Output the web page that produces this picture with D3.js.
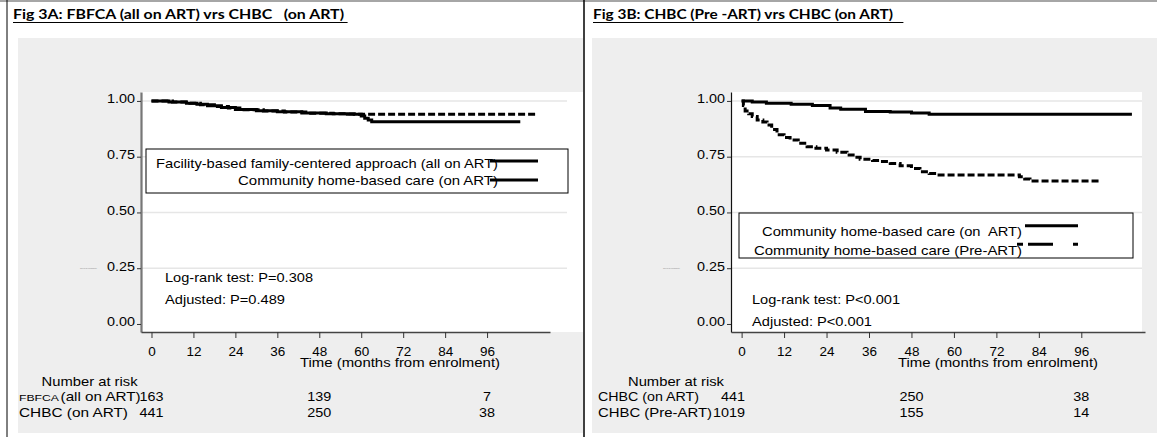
<!DOCTYPE html>
<html>
<head>
<meta charset="utf-8">
<script src="https://cdn.jsdelivr.net/npm/d3@7"></script>
<style>
  body { margin: 0; background: #fff; }
  svg { display: block; }
  text { font-family: "Liberation Sans", Arial, sans-serif; fill: #000; }
</style>
</head>
<body>
<div id="chart"></div>
<script>
//////////////////////
// data from figure //
//////////////////////

const monthTicks = [0, 12, 24, 36, 48, 60, 72, 84, 96]
const survTicks = [0, 0.25, 0.5, 0.75, 1]
const gridTicks = [0.25, 0.5, 0.75, 1]
const riskMonths = [0, 48, 96]

// Fig 3A  [month, survival]
const fbfcaOnArt = [[0, 1], [5, 0.995], [10, 0.99], [13, 0.985], [16, 0.978], [20, 0.97], [24, 0.962],
    [30, 0.956], [36, 0.951], [43, 0.946], [50, 0.943], [56, 0.94], [60, 0.932], [61, 0.922],
    [62, 0.914], [63, 0.907], [105.5, 0.907]]
const chbcOnArtA = [[0, 1], [6, 0.995], [11, 0.99], [14, 0.983], [18, 0.975], [22, 0.968], [26, 0.96],
    [32, 0.955], [38, 0.95], [45, 0.945], [52, 0.942], [58, 0.94], [110, 0.94]]
const riskFbfca = [163, 139, 7]
const riskChbcA = [441, 250, 38]

// Fig 3B
const chbcOnArtB = [[0, 1], [3, 0.995], [7, 0.99], [14, 0.985], [20, 0.979], [25, 0.968], [28, 0.963],
    [35, 0.953], [42, 0.95], [48, 0.946], [53, 0.94], [110.3, 0.94]]
const chbcPreArt = [[0, 1], [0.5, 0.98], [1, 0.955], [2, 0.942], [3, 0.93], [4.4, 0.915], [6, 0.905],
    [7.2, 0.892], [8.5, 0.872], [10, 0.848], [12, 0.836], [13.7, 0.825], [16, 0.81], [18.5, 0.795],
    [21, 0.788], [24, 0.78], [27, 0.77], [29.8, 0.758], [32, 0.748], [33.5, 0.739], [37, 0.733],
    [39.2, 0.728], [42, 0.72], [44.8, 0.709], [48, 0.697], [50.4, 0.683], [53, 0.675], [55.2, 0.668],
    [78.5, 0.66], [80, 0.65], [81.5, 0.641], [101.3, 0.641]]
const riskChbcB = [441, 250, 38]
const riskPreArt = [1019, 155, 14]


const W = 1157, H = 437
const svg = d3.select("#chart").append("svg")
    .attr("width", W)
    .attr("height", H)

// text helper, textLength stretches the glyphs like the original export
function txt(g, str, x, y, size, o) {
    o = o || {}
    let t = g.append("text")
        .attr("x", x)
        .attr("y", y)
        .attr("font-size", size)
        .style("white-space", "pre")
        .text(str)
    if (o.family) t.style("font-family", o.family)
    if (o.weight) t.attr("font-weight", o.weight)
    if (o.anchor) t.attr("text-anchor", o.anchor)
    if (o.fill) t.style("fill", o.fill)
    let w = o.w || t.node().getComputedTextLength() * (o.sx || 1.17)
    t.attr("textLength", w).attr("lengthAdjust", "spacingAndGlyphs")
    return t
}

// outer frame
svg.append("line").attr("x1", 0).attr("x2", W).attr("y1", 1).attr("y2", 1)
    .attr("stroke", "#888").attr("stroke-width", 1.5)
svg.append("line").attr("x1", 7).attr("x2", 7).attr("y1", 0).attr("y2", H)
    .attr("stroke", "#000").attr("stroke-width", 1)
svg.append("line").attr("x1", 584).attr("x2", 584).attr("y1", 0).attr("y2", H)
    .attr("stroke", "#000").attr("stroke-width", 1.5)

function panel(c) {
    let g = svg.append("g")

    // title
    txt(g, c.title, c.titleX, 19, 14, { family: "Lato, 'Open Sans', sans-serif", weight: "bold", w: c.titleW })
    g.append("line").attr("x1", c.ul[0]).attr("x2", c.ul[1]).attr("y1", 22.5).attr("y2", 22.5)
        .attr("stroke", "#000").attr("stroke-width", 1.2)

    // grey background and white plot region
    g.append("rect").attr("x", c.gray[0]).attr("y", 38).attr("width", c.gray[1] - c.gray[0]).attr("height", 395)
        .attr("fill", "#eeeeee")
    g.append("rect").attr("x", c.plotX[0]).attr("y", 92).attr("width", c.plotX[1] - c.plotX[0]).attr("height", 240)
        .attr("fill", "#fff")

    let x = d3.scaleLinear().domain([-3, 114]).range([c.plotX[0], c.axisEnd])
    let y = d3.scaleLinear().domain([-0.036, 1.04]).range([332, 92])

    // grid
    g.append("g").selectAll("line")
        .data(gridTicks)
        .enter()
        .append("line")
        .attr("x1", c.plotX[0]).attr("x2", c.gridEnd)
        .attr("y1", d => y(d)).attr("y2", d => y(d))
        .attr("stroke", "#e6e6e6").attr("stroke-width", 1.5)

    // curves
    let line = d3.line().x(d => x(d[0])).y(d => y(d[1])).curve(d3.curveStepAfter)
    c.series.forEach(s => {
        g.append("path")
            .datum(s.data)
            .attr("fill", "none")
            .attr("stroke", "#000")
            .attr("stroke-width", 3)
            .attr("stroke-dasharray", s.dash)
            .attr("d", line)
    })

    // axes
    let yAx = g.append("g")
        .attr("transform", "translate(" + c.plotX[0] + ",0)")
        .call(d3.axisLeft(y).tickValues(survTicks).tickFormat(d3.format(".2f")).tickSize(4).tickSizeOuter(0).tickPadding(2))
    yAx.select(".domain").attr("stroke", c.axisCol).attr("stroke-width", c.axisW)
    yAx.selectAll(".tick line").attr("stroke", "#333")
    yAx.selectAll("text").attr("font-size", 12.5).attr("dy", "0.15em")
        .style("font-family", "'Liberation Sans', Arial, sans-serif")
        .attr("textLength", 28).attr("lengthAdjust", "spacingAndGlyphs")

    let xAx = g.append("g")
        .attr("transform", "translate(0,332)")
        .call(d3.axisBottom(x).tickValues(monthTicks).tickSize(6).tickSizeOuter(0).tickPadding(9.5))
    xAx.select(".domain").attr("stroke", "#444").attr("stroke-width", 1.5)
    xAx.selectAll(".tick line").attr("stroke", "#333")
    xAx.selectAll("text").attr("font-size", 12.5)
        .style("font-family", "'Liberation Sans', Arial, sans-serif")
        .attr("textLength", d => String(d).length * 7.5).attr("lengthAdjust", "spacingAndGlyphs")

    txt(g, "Time (months from enrolment)", c.timeX, 367, 12, { w: 200 })

    // tiny leftover y title
    txt(g, "Survival probability", c.tinyX, 269, 2.5, { w: 17, fill: "#888" })

    // legend
    g.append("rect").attr("x", c.box[0]).attr("y", c.box[1])
        .attr("width", c.box[2] - c.box[0]).attr("height", c.box[3] - c.box[1])
        .attr("fill", "#fff").attr("stroke", "#000").attr("stroke-width", 1)
    c.legend.forEach(l => {
        txt(g, l.label, l.x, l.y, 13.5, { w: l.w })
        g.append("line").attr("x1", l.line[0]).attr("x2", l.line[1]).attr("y1", l.line[2]).attr("y2", l.line[2])
            .attr("stroke", "#000").attr("stroke-width", 3).attr("stroke-dasharray", l.dash)
    })

    // test notes
    c.notes.forEach(n => txt(g, n.s, n.x, n.y, 13.5, { w: n.w }))

    // number at risk
    txt(g, "Number at risk", c.riskHead, 386, 13, { w: 96 })
    c.rows.forEach((r, i) => {
        let yy = 400.5 + i * 16.5
        r.labels.forEach(l => txt(g, l.s, l.x, yy, l.size || 13, { w: l.w }))
        r.vals.forEach((v, j) => {
            let w = String(v).length * 8
            if (j == 0) txt(g, v, x(riskMonths[j]) + c.firstEnd, yy, 13, { anchor: "end", w: w })
            else txt(g, v, x(riskMonths[j]), yy, 13, { anchor: "middle", w: w })
        })
    })
}

panel({
    title: "Fig 3A: FBFCA (all on ART) vrs CHBC   (on ART)", titleX: 13, titleW: 331, ul: [13, 347.6],
    gray: [18, 583], plotX: [141, 583], axisEnd: 550, gridEnd: 567,
    axisCol: "#777", axisW: 2.2, timeX: 300, tinyX: 80, firstEnd: 12,
    series: [{ data: fbfcaOnArt, dash: null }, { data: chbcOnArtA, dash: "7,3" }],
    box: [146, 149, 568, 193],
    legend: [
        { label: "Facility-based family-centered approach (all on ART)", x: 156, y: 168, w: 342, line: [490, 538, 161], dash: null },
        { label: "Community home-based care (on ART)", x: 238, y: 184.5, w: 260, line: [490, 538, 180], dash: null }
    ],
    notes: [{ s: "Log-rank test: P=0.308", x: 165, y: 281.5, w: 148 }, { s: "Adjusted: P=0.489", x: 165, y: 304, w: 120 }],
    riskHead: 41.6,
    rows: [
        { labels: [{ s: "FBFCA", x: 19, w: 40, size: 9.5 }, { s: "(all on ART)", x: 60.6, w: 80 }], vals: riskFbfca },
        { labels: [{ s: "CHBC (on ART)", x: 19, w: 109 }], vals: riskChbcA }
    ]
})

panel({
    title: "Fig 3B: CHBC (Pre -ART) vrs CHBC (on ART)", titleX: 593, titleW: 300, ul: [593, 903.4],
    gray: [592, 1157], plotX: [731, 1142], axisEnd: 1145, gridEnd: 1142,
    axisCol: "#111", axisW: 1.2, timeX: 898, tinyX: 663, firstEnd: 3.5,
    series: [{ data: chbcOnArtB, dash: null }, { data: chbcPreArt, dash: "7,3" }],
    box: [739, 213, 1133, 258],
    legend: [
        { label: "Community home-based care (on  ART)", x: 762, y: 236, w: 260, line: [1025, 1078, 225.7], dash: null },
        { label: "Community home-based care (Pre-ART)", x: 754, y: 254.5, w: 268, line: [1017, 1078, 244.3], dash: "6,5,25,20,5" }
    ],
    notes: [{ s: "Log-rank test: P<0.001", x: 752, y: 304.3, w: 148 }, { s: "Adjusted: P<0.001", x: 752, y: 326, w: 120 }],
    riskHead: 628,
    rows: [
        { labels: [{ s: "CHBC (on ART)", x: 598, w: 101 }], vals: riskChbcB },
        { labels: [{ s: "CHBC (Pre-ART)", x: 598, w: 114 }], vals: riskPreArt }
    ]
})
</script>
</body>
</html>
